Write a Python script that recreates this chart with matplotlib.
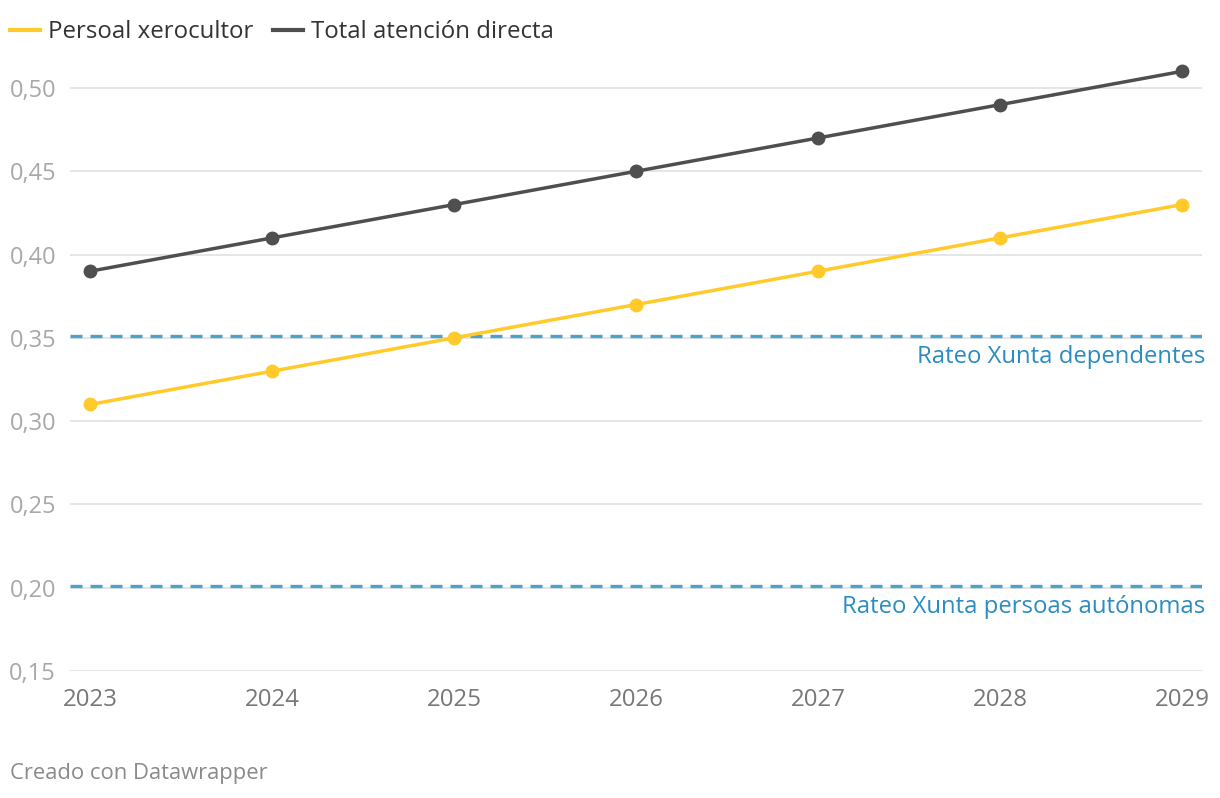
import matplotlib
matplotlib.use("Agg")
import matplotlib.pyplot as plt
from matplotlib.lines import Line2D
from matplotlib.ticker import FuncFormatter

years = [2023, 2024, 2025, 2026, 2027, 2028, 2029]
persoal_xerocultor = [0.31, 0.33, 0.35, 0.37, 0.39, 0.41, 0.43]
total_atencion = [0.39, 0.41, 0.43, 0.45, 0.47, 0.49, 0.51]
ref_values = [0.35, 0.20]
ref_labels = ["Rateo Xunta dependentes", "Rateo Xunta persoas autónomas"]
series_names = ["Persoal xerocultor", "Total atención directa"]
yticks = [0.15, 0.20, 0.25, 0.30, 0.35, 0.40, 0.45, 0.50]

plt.rcParams['font.family'] = ['Open Sans', 'DejaVu Sans']

W, H = 1220, 798
fig = plt.figure(figsize=(W/100, H/100), dpi=100)
left, right = 70, 1202
bottom_px, top_px = 671, 54.7
ax = fig.add_axes([left/W, 1-bottom_px/H, (right-left)/W, (bottom_px-top_px)/H])

yellow = "#ffca2a"
dark = "#4f4f4f"
blue = "#4ba3cc"
blue_text = "#2a8cc0"

ax.set_xlim(2023 - 20/182, 2029 + 20/182)
ax.set_ylim(0.15, 0.52)

for v in yticks:
    ax.axhline(v, color="#e3e3e3", lw=1.3, zorder=1)

for v in ref_values:
    ax.axhline(v + 0.001, color=blue, lw=2.4, dashes=(3.6, 2.4), zorder=2)

ax.plot(years, persoal_xerocultor, color=yellow, lw=2.5, marker="o", ms=9,
        zorder=4, clip_on=False, solid_capstyle="round")
ax.plot(years, total_atencion, color=dark, lw=2.5, marker="o", ms=9,
        zorder=4, clip_on=False, solid_capstyle="round")

for v, lab in zip(ref_values, ref_labels):
    ax.annotate(lab, xy=(1205/W, v - 0.0115), xycoords=("figure fraction", "data"),
                ha="right", va="center", color=blue_text, fontsize=17.2)

for s in ax.spines.values():
    s.set_visible(False)

ax.set_yticks(yticks)
ax.yaxis.set_major_formatter(FuncFormatter(lambda v, p: f"{v:.2f}".replace(".", ",")))
ax.tick_params(axis="y", length=0, pad=10, labelsize=17, labelcolor="#a8a8a8")
ax.set_xticks(years)
ax.set_xticklabels([str(y) for y in years])
ax.tick_params(axis="x", length=0, pad=12, labelsize=17.3, labelcolor="#777777")

handles = [Line2D([], [], color=yellow, lw=3), Line2D([], [], color=dark, lw=3)]
fig.legend(handles, series_names, loc="center left", bbox_to_anchor=(10/W, 1-32/H),
           ncol=2, frameon=False, fontsize=17.3, handlelength=1.25,
           handletextpad=0.33, columnspacing=0.8, labelcolor="#333333",
           borderaxespad=0, borderpad=0)

fig.text(10/W, 1-774/H, "Creado con Datawrapper", ha="left", va="center",
         color="#8a8a8a", fontsize=15.8)

fig.savefig("out.png", dpi=100)
